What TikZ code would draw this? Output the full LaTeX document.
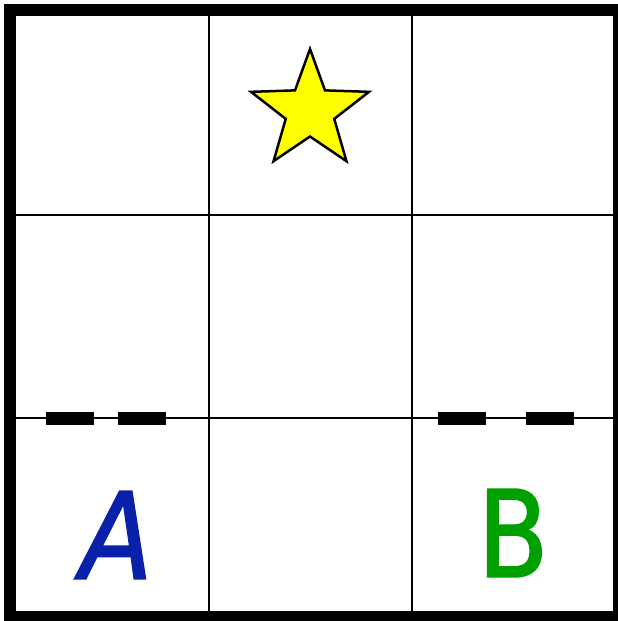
\documentclass[tikz,border=0pt]{standalone}
\usepackage{fontspec}
\setsansfont{DejaVu Sans}
\newfontfamily\agentfont[FakeBold=1.6, FakeStretch=0.86]{DejaVu Sans}
\newfontfamily\agentslantfont[FakeBold=1.6, FakeSlant=0.18, FakeStretch=0.88]{DejaVu Sans}
\usetikzlibrary{positioning}

\definecolor{agentblue}{RGB}{8,32,170}
\definecolor{agentgreen}{RGB}{0,160,0}
\definecolor{goalyellow}{RGB}{255,255,0}

\begin{document}
\begin{tikzpicture}[
  x=1pt, y=-1pt,
  frame/.style={draw=black, line width=12pt},
  gridline/.style={draw=black, line width=2pt},
  wall/.style={draw=black, line width=13pt},
  goal/.style={draw=black, fill=goalyellow, line width=2.5pt, line join=miter},
  agent/.style={font=#1\fontsize{120}{120}\selectfont, inner sep=0pt}
]
\useasboundingbox (0,0) rectangle (618,621);

% 3x3 grid
\foreach \gx in {209,411.5}
  \draw[gridline] (\gx,10) -- (\gx,617);
\foreach \gy in {215.3,418.3}
  \draw[gridline] (10,\gy) -- (618,\gy);

% outer frame
\draw[frame] (10,10) rectangle (618.7,617);

% walls on the lower row border
\coordinate (wallL1) at (46,418.5);  \coordinate (wallL2) at (94,418.5);
\coordinate (wallL3) at (118,418.5); \coordinate (wallL4) at (166,418.5);
\coordinate (wallR1) at (438,418.5); \coordinate (wallR2) at (486,418.5);
\coordinate (wallR3) at (526,418.5); \coordinate (wallR4) at (574,418.5);
\draw[wall] (wallL1) -- (wallL2);
\draw[wall] (wallL3) -- (wallL4);
\draw[wall] (wallR1) -- (wallR2);
\draw[wall] (wallR3) -- (wallR4);

% goal star in the top middle cell
\coordinate (goal) at (310,111);
\draw[goal, shift={(goal)}] (270:62)
  \foreach \k in {1,...,9} { -- ({270+36*\k}:{mod(\k,2)==0 ? 62 : 25.5}) } -- cycle;

% agents
\node[agent=\agentslantfont, text=agentblue] (agentA) at (110,535) {A};
\node[agent=\agentfont, text=agentgreen] (agentB) at (513,533) {B};

\end{tikzpicture}
\end{document}
